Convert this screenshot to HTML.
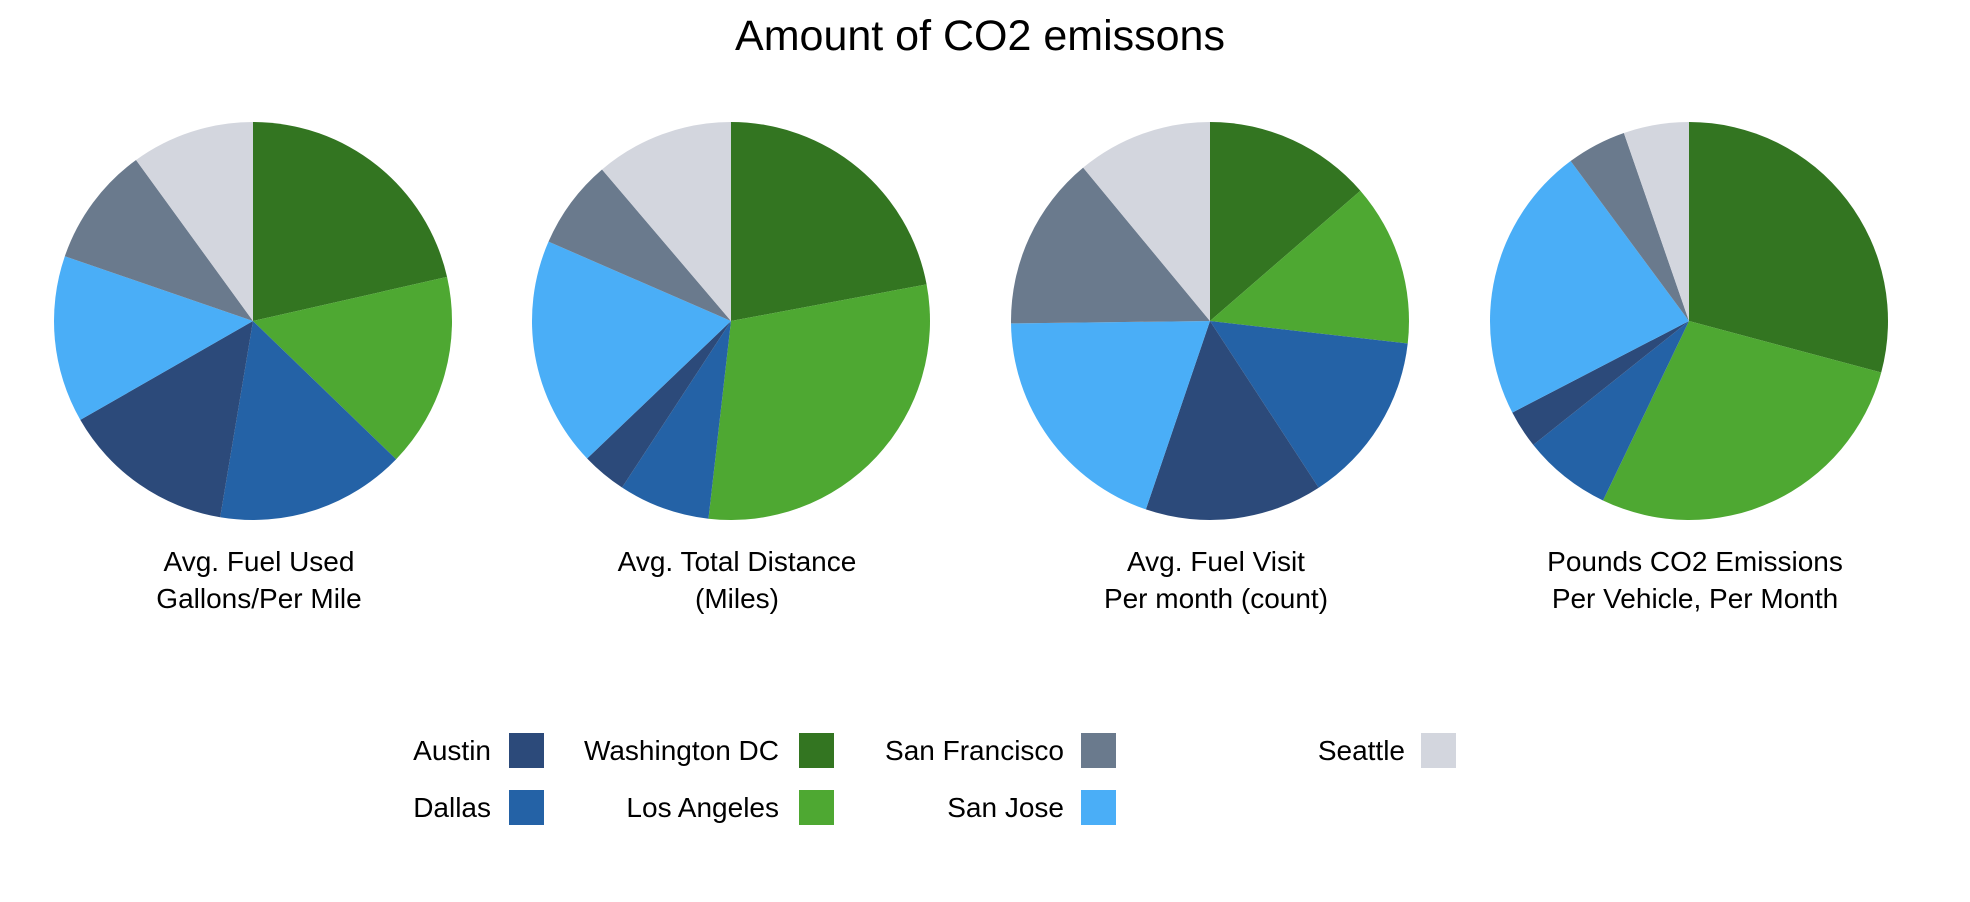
<!DOCTYPE html>
<html><head><meta charset="utf-8"><style>
html,body{margin:0;padding:0;background:#fff;}
svg{display:block;font-family:"Liberation Sans",sans-serif;}
</style></head><body>
<svg id="chart" width="1970" height="902" viewBox="0 0 1970 902">
<text x="980" y="50" text-anchor="middle" font-size="43" fill="#000">Amount of CO2 emissons</text>
<g id="pies"></g>
<g id="legend"></g>
</svg>
<script>
const cities = ["Washington DC","Los Angeles","Dallas","Austin","San Jose","San Francisco","Seattle"];
const colors = ["#337521","#4ea832","#2462a6","#2c4a7a","#4aaef7","#6a7a8d","#d3d6de"];
const fuelUsed = [77.2,56.8,55.5,50.7,48.8,35,36];
const totalDistance = [79.4,107.1,26.7,13.1,67.2,26.1,40.4];
const fuelVisit = [49.1,47.4,50.4,51.9,70.5,51.1,39.6];
const poundsCO2 = [105,100.6,25.9,11.1,80.9,17.4,19.1];
const series = [fuelUsed,totalDistance,fuelVisit,poundsCO2];
const titles = [["Avg. Fuel Used","Gallons/Per Mile"],["Avg. Total Distance","(Miles)"],["Avg. Fuel Visit","Per month (count)"],["Pounds CO2 Emissions","Per Vehicle, Per Month"]];
const legendOrder = [["Austin","Washington DC","San Francisco","Seattle"],["Dallas","Los Angeles","San Jose"]];

const NS="http://www.w3.org/2000/svg";
const pies=document.getElementById('pies');
const cxs=[253,731,1210,1689], cy=321, r=199;
series.forEach((vals,pi)=>{
  const g=document.createElementNS(NS,'g');
  
  
  pies.appendChild(g);
  const total=vals.reduce((a,b)=>a+b,0);
  let a0=0;
  vals.forEach((v,i)=>{
    const a1=a0+v/total*2*Math.PI;
    const x0=cxs[pi]+r*Math.sin(a0), y0=cy-r*Math.cos(a0);
    const x1=cxs[pi]+r*Math.sin(a1), y1=cy-r*Math.cos(a1);
    const p=document.createElementNS(NS,'path');
    p.setAttribute('d',`M${cxs[pi]},${cy}L${x0},${y0}A${r},${r} 0 ${a1-a0>Math.PI?1:0} 1 ${x1},${y1}Z`);
    p.setAttribute('fill',colors[i]);
    
    
    g.appendChild(p);
    a0=a1;
  });
  titles[pi].forEach((t,li)=>{
    const tx=document.createElementNS(NS,'text');
    tx.setAttribute('x',cxs[pi]+6);
    tx.setAttribute('y',571+li*37);
    tx.setAttribute('text-anchor','middle');
    tx.setAttribute('font-size','28');
    tx.textContent=t;
    
    
    g.appendChild(tx);
  });
});
const lg=document.getElementById('legend');
const textRight=[491,779,1064,1405], swX=[509,799,1081,1421], rowY=[750,807];
legendOrder.forEach((row,ri)=>{
  row.forEach((c,ci)=>{
    const e=document.createElementNS(NS,'g');
    
    
    const t=document.createElementNS(NS,'text');
    t.setAttribute('x',textRight[ci]);t.setAttribute('y',rowY[ri]+10);
    t.setAttribute('text-anchor','end');t.setAttribute('font-size','28');
    t.textContent=c;
    const s=document.createElementNS(NS,'rect');
    s.setAttribute('x',swX[ci]);s.setAttribute('y',rowY[ri]-17);
    s.setAttribute('width',35);s.setAttribute('height',35);
    s.setAttribute('fill',colors[cities.indexOf(c)]);
    e.appendChild(t);e.appendChild(s);lg.appendChild(e);
  });
});
</script>
</body></html>
